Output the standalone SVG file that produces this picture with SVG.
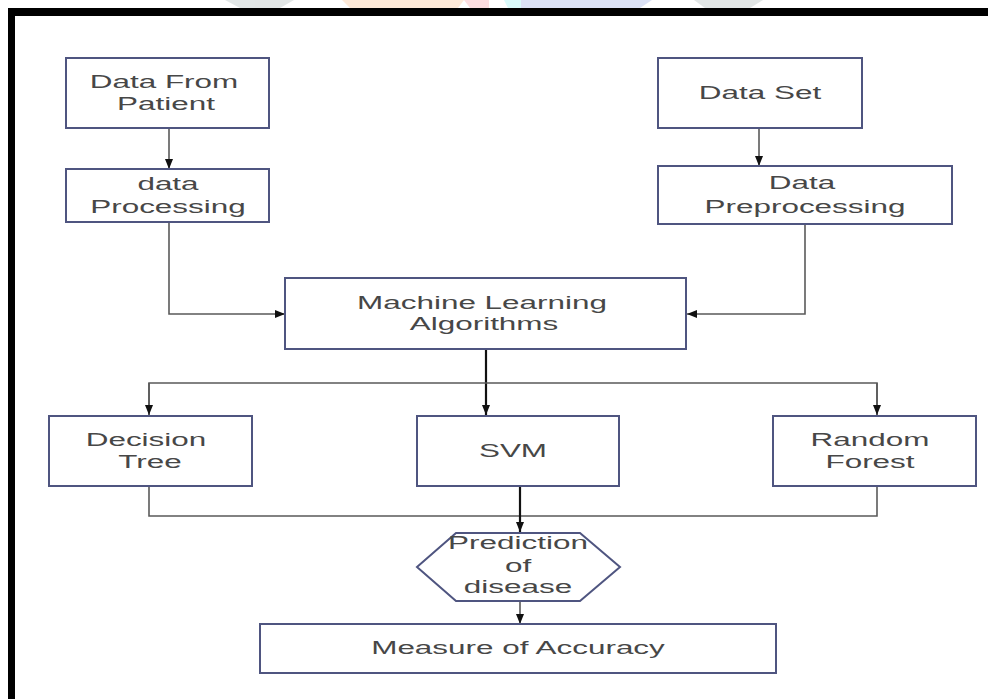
<svg xmlns="http://www.w3.org/2000/svg" width="988" height="699" viewBox="0 0 988 699">
<defs>
<style>
.box{fill:#ffffff;stroke:#4f5580;stroke-width:2}
.t{font-family:"Liberation Sans",Arial,sans-serif;font-size:18.5px;fill:#474747;text-anchor:middle}
.c{fill:none;stroke:#5a5a5a;stroke-width:1.6}
.ck{fill:none;stroke:#111111;stroke-width:2.2}
</style>
<marker id="ah" viewBox="0 0 10 8" refX="10" refY="4" markerWidth="10" markerHeight="8" markerUnits="userSpaceOnUse" orient="auto">
<path d="M0,0 L10,4 L0,8 Z" fill="#111111"/>
</marker>
</defs>
<rect width="988" height="699" fill="#ffffff"/>
<g id="watermark" opacity="0.9">
<polygon points="225,0 294,0 280,8 240,8" fill="#dfe4e4"/>
<polygon points="342,0 464,0 458,8 350,8" fill="#fde7d4"/>
<polygon points="464,0 489,0 489,8 470,8" fill="#fcdadd"/>
<polygon points="504,0 521,0 521,8 508,8" fill="#d7fafa"/>
<polygon points="521,0 652,0 640,8 521,8" fill="#d8def5"/>
<polygon points="694,0 763,0 750,8 705,8" fill="#dfe4e4"/>
</g>
<g id="frame">
<rect x="8" y="8" width="980" height="8" fill="#000000"/>
<rect x="8" y="8" width="7" height="691" fill="#000000"/>
</g>
<g id="connectors">
<line class="c" x1="169" y1="128" x2="169" y2="169" marker-end="url(#ah)"/>
<polyline class="c" points="169,222 169,314 285,314" marker-end="url(#ah)"/>
<line class="c" x1="759" y1="128" x2="759" y2="166" marker-end="url(#ah)"/>
<polyline class="c" points="805,224 805,314 687,314" marker-end="url(#ah)"/>
<line class="ck" x1="486" y1="349" x2="486" y2="415" marker-end="url(#ah)"/>
<polyline class="c" points="149,415 149,383 877,383 877,415" />
<line class="c" x1="149" y1="383" x2="149" y2="415" marker-end="url(#ah)"/>
<line class="c" x1="877" y1="383" x2="877" y2="415" marker-end="url(#ah)"/>
<polyline class="c" points="149,486 149,516 877,516 877,486"/>
<line class="ck" x1="520" y1="486" x2="520" y2="532" marker-end="url(#ah)"/>
<line class="c" x1="520" y1="601" x2="520" y2="624" marker-end="url(#ah)"/>
</g>
<g id="data-from-patient">
<rect class="box" x="66" y="58" width="203" height="70"/>
<text class="t" transform="matrix(1.7 0 0 1 164 88)">Data From</text>
<text class="t" transform="matrix(1.7 0 0 1 166 110)">Patient</text>
</g>
<g id="data-processing">
<rect class="box" x="66" y="169" width="203" height="53"/>
<text class="t" transform="matrix(1.7 0 0 1 168 190)">data</text>
<text class="t" transform="matrix(1.7 0 0 1 168 213)">Processing</text>
</g>
<g id="data-set">
<rect class="box" x="658" y="58" width="204" height="70"/>
<text class="t" transform="matrix(1.7 0 0 1 760 99)">Data Set</text>
</g>
<g id="data-preprocessing">
<rect class="box" x="658" y="166" width="294" height="58"/>
<text class="t" transform="matrix(1.7 0 0 1 802 189)">Data</text>
<text class="t" transform="matrix(1.7 0 0 1 805 213)">Preprocessing</text>
</g>
<g id="ml-algorithms">
<rect class="box" x="285" y="278" width="401" height="71"/>
<text class="t" transform="matrix(1.7 0 0 1 482 309)">Machine Learning</text>
<text class="t" transform="matrix(1.7 0 0 1 484 330)">Algorithms</text>
</g>
<g id="decision-tree">
<rect class="box" x="49" y="416" width="203" height="70"/>
<text class="t" transform="matrix(1.7 0 0 1 146 446)">Decision</text>
<text class="t" transform="matrix(1.7 0 0 1 150 468)">Tree</text>
</g>
<g id="svm">
<rect class="box" x="417" y="416" width="202" height="70"/>
<text class="t" transform="matrix(1.7 0 0 1 513 457)">SVM</text>
</g>
<g id="random-forest">
<rect class="box" x="773" y="416" width="203" height="70"/>
<text class="t" transform="matrix(1.7 0 0 1 870 446)">Random</text>
<text class="t" transform="matrix(1.7 0 0 1 870 468)">Forest</text>
</g>
<g id="prediction">
<polygon class="box" points="456,533 580,533 620,567 580,601 456,601 417,567"/>
<text class="t" transform="matrix(1.7 0 0 1 518 549)">Prediction</text>
<text class="t" transform="matrix(1.7 0 0 1 518 572)">of</text>
<text class="t" transform="matrix(1.7 0 0 1 518 593)">disease</text>
</g>
<g id="measure-accuracy">
<rect class="box" x="260" y="624" width="516" height="49"/>
<text class="t" transform="matrix(1.7 0 0 1 518 654)">Measure of Accuracy</text>
</g>
</svg>
